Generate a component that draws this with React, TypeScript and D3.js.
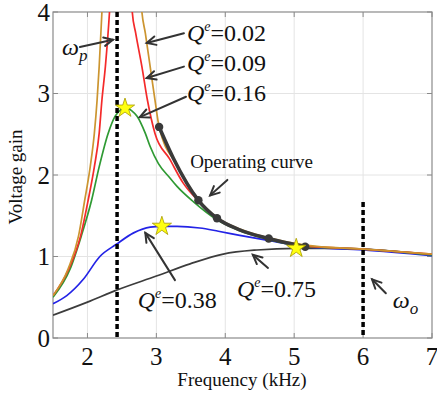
import * as d3 from "d3";

// frequency axis (kHz) and voltage gain axis
const xTicks = [2, 3, 4, 5, 6, 7];
const yTicks = [0, 1, 2, 3, 4];

// Qe = 0.02 (orange)
const q002Freq = [1.5, 1.72, 1.87, 1.96, 2.04, 2.1, 2.14, 2.17, 2.21, 2.26, 2.5, 2.73, 2.79, 2.84, 2.91, 2.98, 3.04, 3.3, 3.61, 3.88, 4.2, 4.63, 5.16, 6, 7];
const q002Gain = [0.52, 0.85, 1.25, 1.69, 2.1, 2.51, 2.92, 3.33, 4.0, 4.8, 8, 4.8, 4.0, 3.74, 3.33, 2.92, 2.59, 2.12, 1.7, 1.48, 1.34, 1.23, 1.14, 1.09, 1.03];

// Qe = 0.09 (red)
const q009Freq = [1.5, 1.72, 1.9, 2.01, 2.1, 2.17, 2.21, 2.26, 2.32, 2.37, 2.5, 2.6, 2.65, 2.7, 2.79, 2.87, 2.98, 3.19, 3.39, 3.61, 3.88, 4.2, 4.63, 5.16, 6, 7];
const q009Gain = [0.52, 0.83, 1.25, 1.69, 2.1, 2.51, 2.92, 3.33, 4.0, 4.8, 7, 4.8, 4.0, 3.74, 3.33, 2.92, 2.51, 2.2, 1.9, 1.68, 1.47, 1.33, 1.22, 1.13, 1.09, 1.03];

// Qe = 0.16 (green)
const q016Freq = [1.5, 1.75, 1.91, 2.06, 2.17, 2.3, 2.4, 2.48, 2.55, 2.64, 2.72, 2.84, 2.91, 3.03, 3.2, 3.3, 3.54, 3.88, 4.2, 4.63, 5.16, 6, 7];
const q016Gain = [0.5, 0.85, 1.25, 1.69, 2.1, 2.51, 2.72, 2.8, 2.83, 2.79, 2.72, 2.51, 2.35, 2.14, 1.96, 1.86, 1.67, 1.45, 1.32, 1.21, 1.12, 1.09, 1.02];

// Qe = 0.38 (blue)
const q038Freq = [1.5, 1.7, 1.94, 2.18, 2.42, 2.67, 2.91, 3.08, 3.3, 3.63, 3.9, 4.21, 4.6, 5.16, 6, 7];
const q038Gain = [0.42, 0.52, 0.72, 1.0, 1.15, 1.29, 1.36, 1.37, 1.37, 1.35, 1.31, 1.26, 1.2, 1.12, 1.08, 1.01];

// Qe = 0.75 (dark gray)
const q075Freq = [1.5, 2.0, 2.43, 3.0, 3.49, 3.97, 4.46, 5.03, 5.5, 6, 7];
const q075Gain = [0.28, 0.44, 0.59, 0.76, 0.91, 1.03, 1.08, 1.1, 1.1, 1.09, 1.02];

// operating curve and its points
const opFreq = [3.04, 3.25, 3.61, 3.88, 4.2, 4.63, 5.16];
const opGain = [2.59, 2.2, 1.69, 1.47, 1.33, 1.22, 1.12];
const opDotFreq = [3.04, 3.61, 3.88, 4.63, 5.16];
const opDotGain = [2.59, 1.69, 1.47, 1.22, 1.12];

// peak stars
const starFreq = [2.545, 3.08, 5.03];
const starGain = [2.82, 1.37, 1.1];

// resonant frequencies
const omegaP = 2.43;
const omegaO = 6.0;
const omegaOTop = 1.67;

const series = [
  { f: q075Freq, g: q075Gain, color: "#3c3c3c" },
  { f: q038Freq, g: q038Gain, color: "#2323e6" },
  { f: q016Freq, g: q016Gain, color: "#2f9a33" },
  { f: q009Freq, g: q009Gain, color: "#f42a2a" },
  { f: q002Freq, g: q002Gain, color: "#cc9530" },
];

// annotation arrows, tail -> tip, in data units
const arrows = [
  { from: [1.89, 3.57], to: [2.37, 3.66] },
  { from: [3.4, 3.74], to: [2.86, 3.62] },
  { from: [3.4, 3.33], to: [2.86, 3.19] },
  { from: [3.43, 2.96], to: [2.76, 2.71] },
  { from: [4.03, 1.94], to: [3.78, 1.75] },
  { from: [3.27, 0.71], to: [2.84, 1.29] },
  { from: [4.62, 0.86], to: [4.4, 1.02] },
  { from: [6.33, 0.55], to: [6.13, 0.72] },
];

const qLabels = [
  { at: [3.445, 3.64], text: "=0.02" },
  { at: [3.445, 3.28], text: "=0.09" },
  { at: [3.445, 2.91], text: "=0.16" },
  { at: [2.73, 0.37], text: "=0.38" },
  { at: [4.17, 0.5], text: "=0.75" },
];

const W = 437;
const H = 396;
const x = d3.scaleLinear().domain([1.5, 7]).range([53, 432]);
const y = d3.scaleLinear().domain([0, 4]).range([338, 12]);
const serif = { fontFamily: '"Liberation Serif", "DejaVu Serif", serif' };

const line = d3
  .line<[number, number]>()
  .x((d) => x(d[0]))
  .y((d) => y(d[1]))
  .curve(d3.curveMonotoneX);

const zip = (f: number[], g: number[]) => f.map((v, i) => [v, g[i]] as [number, number]);

function Arrow({ from, to }: { from: number[]; to: number[] }) {
  const x1 = x(from[0]), y1 = y(from[1]);
  const x2 = x(to[0]), y2 = y(to[1]);
  const ang = Math.atan2(y1 - y2, x1 - x2);
  const L = 10, s = 0.45;
  const p1 = [x2 + L * Math.cos(ang + s), y2 + L * Math.sin(ang + s)];
  const p2 = [x2 + L * Math.cos(ang - s), y2 + L * Math.sin(ang - s)];
  return (
    <g stroke="#333" strokeWidth={2} fill="none" strokeLinecap="round">
      <line x1={x1} y1={y1} x2={x2} y2={y2} />
      <polyline points={`${p1[0]},${p1[1]} ${x2},${y2} ${p2[0]},${p2[1]}`} />
    </g>
  );
}

export default function App() {
  const star = d3.symbol().type(d3.symbolStar).size(115)() || "";
  return (
    <svg width={W} height={H} style={{ position: "absolute", left: 0, top: 0, background: "#fff", ...serif }}>
      <defs>
        <clipPath id="plot">
          <rect x={53} y={12} width={379} height={326} />
        </clipPath>
      </defs>
      {/* grid */}
      <g stroke="#e4e4e4" strokeWidth={1}>
        {xTicks.slice(0, -1).map((t) => (
          <line key={"gx" + t} x1={x(t)} x2={x(t)} y1={12} y2={338} />
        ))}
        {yTicks.slice(1, -1).map((t) => (
          <line key={"gy" + t} x1={53} x2={432} y1={y(t)} y2={y(t)} />
        ))}
      </g>
      {/* frame and ticks */}
      <rect x={53} y={12} width={379} height={326} fill="none" stroke="#8a8a8a" strokeWidth={1.2} />
      <g stroke="#8a8a8a" strokeWidth={1}>
        {xTicks.map((t) => (
          <g key={"tx" + t}>
            <line x1={x(t)} x2={x(t)} y1={338} y2={333} />
            <line x1={x(t)} x2={x(t)} y1={12} y2={17} />
          </g>
        ))}
        {yTicks.map((t) => (
          <g key={"ty" + t}>
            <line x1={53} x2={58} y1={y(t)} y2={y(t)} />
            <line x1={432} x2={427} y1={y(t)} y2={y(t)} />
          </g>
        ))}
      </g>
      {/* tick labels */}
      <g fontSize={25} fill="#111" style={serif}>
        {xTicks.map((t) => (
          <text key={"lx" + t} x={x(t)} y={365} textAnchor="middle">{t}</text>
        ))}
        {yTicks.map((t) => (
          <text key={"ly" + t} x={50} y={y(t) + 8.5} textAnchor="end">{t}</text>
        ))}
      </g>
      <text x={242} y={386} fontSize={19} textAnchor="middle" fill="#111" style={serif}>Frequency (kHz)</text>
      <text transform="translate(22,177) rotate(-90)" fontSize={19} textAnchor="middle" fill="#111" style={serif}>Voltage gain</text>

      {/* curves */}
      <g clipPath="url(#plot)" fill="none">
        {series.map((s, i) => (
          <path key={i} d={line(zip(s.f, s.g)) || ""} stroke={s.color} strokeWidth={1.7} />
        ))}
        <path d={line(zip(opFreq, opGain)) || ""} stroke="#3a3a3a" strokeWidth={3.6} />
        {opDotFreq.map((f, i) => (
          <circle key={"d" + i} cx={x(f)} cy={y(opDotGain[i])} r={4.2} fill="#3a3a3a" />
        ))}
      </g>
      {/* resonance markers */}
      <g stroke="#000" strokeWidth={3.5} strokeDasharray="5 3">
        <line x1={x(omegaP)} x2={x(omegaP)} y1={y(4)} y2={y(0)} />
        <line x1={x(omegaO)} x2={x(omegaO)} y1={y(omegaOTop)} y2={y(0)} />
      </g>
      {starFreq.map((f, i) => (
        <path key={"s" + i} d={star} transform={`translate(${x(f)},${y(starGain[i])})`} fill="#ffff10" stroke="#a89a00" strokeWidth={0.8} />
      ))}
      {arrows.map((a, i) => (
        <Arrow key={"a" + i} from={a.from} to={a.to} />
      ))}
      {/* labels */}
      <g fontSize={24} fill="#111" style={serif}>
        {qLabels.map((l, i) => (
          <text key={"q" + i} x={x(l.at[0])} y={y(l.at[1])}>
            <tspan fontStyle="italic">Q</tspan>
            <tspan fontStyle="italic" fontSize={14} dy={-10}>e</tspan>
            <tspan dy={10}>{l.text}</tspan>
          </text>
        ))}
        <text x={x(1.63)} y={y(3.47)} fontStyle="italic">
          ω<tspan fontSize={17} dy={6}>p</tspan>
        </text>
        <text x={x(6.43)} y={y(0.37)} fontStyle="italic">
          ω<tspan fontSize={17} dy={6}>o</tspan>
        </text>
      </g>
      <text x={x(3.49)} y={y(2.09)} fontSize={19} fill="#111" style={serif}>Operating curve</text>
    </svg>
  );
}
